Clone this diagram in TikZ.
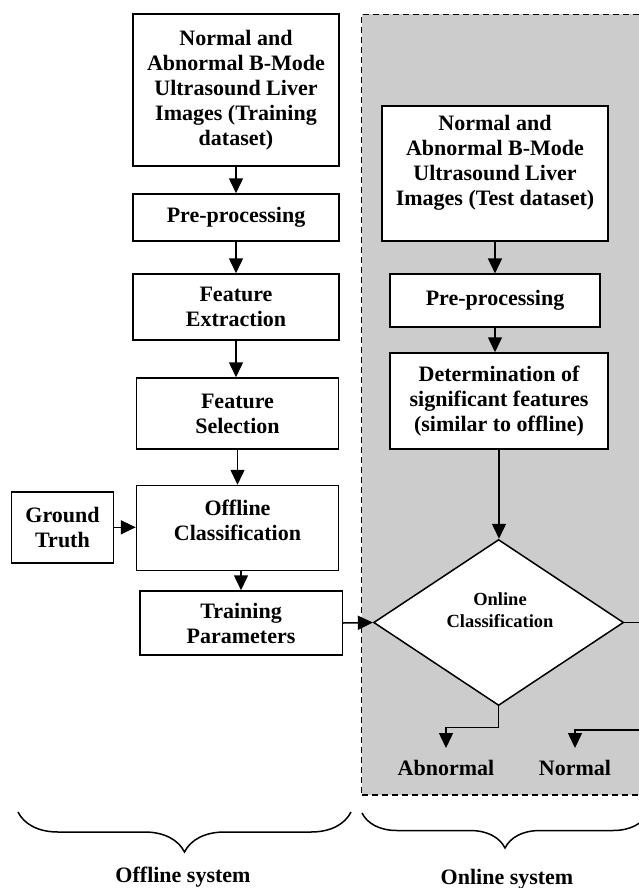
\documentclass[tikz,border=0pt]{standalone}
\usepackage{fontspec}
\setmainfont{Liberation Serif}
\usetikzlibrary{arrows.meta,shapes.geometric,decorations.pathreplacing}
\begin{document}
\begin{tikzpicture}[x=1pt,y=-1pt,
  box/.style={draw, line width=1.5pt, fill=white, inner sep=0pt, align=center, font=\bfseries\fontsize{22}{25}\selectfont},
  txt/.style={inner sep=0pt, align=center, font=\bfseries\fontsize{22}{25}\selectfont},
  dtxt/.style={inner sep=0pt, align=center, font=\bfseries\fontsize{18.5}{22}\selectfont},
  arr/.style={line width=1.5pt, -{Triangle[length=15pt,width=14pt]}},
  ln/.style={line width=1.5pt},
  brc/.style={line width=1.5pt, decorate, decoration={brace, mirror, amplitude=#1}},
  region/.style={draw, dash pattern=on 6pt off 4pt, line width=1.5pt, fill=gray!40, inner sep=0pt}]

\useasboundingbox (0,0) rectangle (639,888);
\fill[white] (0,0) rectangle (639,888);

% online region
\node[region, minimum width=298.5pt, minimum height=780.7pt] (reg) at (510.75,404.65) {};

% offline column
\node[box, minimum width=206pt, minimum height=152pt] (b1) at (236,90) {Normal and\\Abnormal B-Mode\\Ultrasound Liver\\Images (Training\\dataset)};
\node[box, minimum width=206pt, minimum height=47pt] (pp) at (236,217.5) {Pre-processing};
\node[box, minimum width=206pt, minimum height=66pt] (fe) at (236,307) {Feature\\Extraction};
\node[box, minimum width=202pt, minimum height=71pt] (fs) at (237.5,413.5) {Feature\\Selection};
\node[box, minimum width=202pt, minimum height=85pt] (oc) at (237.5,528) {};
\node[txt] (oct) at (237.5,520) {Offline\\Classification};
\node[box, minimum width=102pt, minimum height=71pt] (gt) at (62.5,527.3) {Ground\\Truth};
\node[box, minimum width=202.5pt, minimum height=64pt] (tp) at (241,623) {Training\\Parameters};

% online column
\node[box, minimum width=226pt, minimum height=135pt] (tb) at (495,173.7) {};
\node[txt] (tbt) at (495,163) {Normal and\\Abnormal B-Mode\\Ultrasound Liver\\Images (Test dataset)};
\node[box, minimum width=210pt, minimum height=53pt] (tpp) at (495,300.7) {Pre-processing};
\node[box, minimum width=218pt, minimum height=96pt] (det) at (499,401) {Determination of\\significant features\\(similar to offline)};
\node[diamond, draw, line width=1.5pt, fill=white, inner sep=0pt, minimum width=250pt, minimum height=166pt] (dia) at (498.6,622.5) {};
\node[dtxt] (diat) at (500,610) {Online\\Classification};

\node[txt] (ab) at (446,768) {Abnormal};
\node[txt] (nm) at (575,768) {Normal};
\coordinate (abin) at (446,748);
\coordinate (nmin) at (575,748);
\coordinate (rout) at (660,622.5);
\coordinate (rin) at (660,730);

% connectors
\draw[arr] (b1.south) -- (b1.south |- pp.north);
\draw[arr] (pp.south) -- (pp.south |- fe.north);
\draw[arr] (fe.south) -- (fe.south |- fs.north);
\draw[arr] (fs.south) -- (fs.south |- oc.north);
\draw[arr] (gt.east) -- (gt.east -| oc.west);
\draw[arr] (oc.south -| tp.north) -- (tp.north);
\draw[arr] (tp.east) -- (dia.west);
\draw[arr] (tb.south) -- (tb.south |- tpp.north);
\draw[arr] (tpp.south) -- (tpp.south |- det.north);
\draw[arr] (det.south) -- (det.south |- dia.north);
\draw[ln] (dia.east) -- (rout);
\draw[arr] (dia.south) -- ++(0,21) -| (abin);
\draw[arr] (rin) -| (nmin);

% braces
\draw[brc=40pt] (18,812) -- (351,812);
\draw[brc=35pt] (362,813) -- (648,813);
\node[txt] (offl) at (183,877) {Offline system};
\node[txt] (onl) at (507,879) {Online system};
\end{tikzpicture}
\end{document}
